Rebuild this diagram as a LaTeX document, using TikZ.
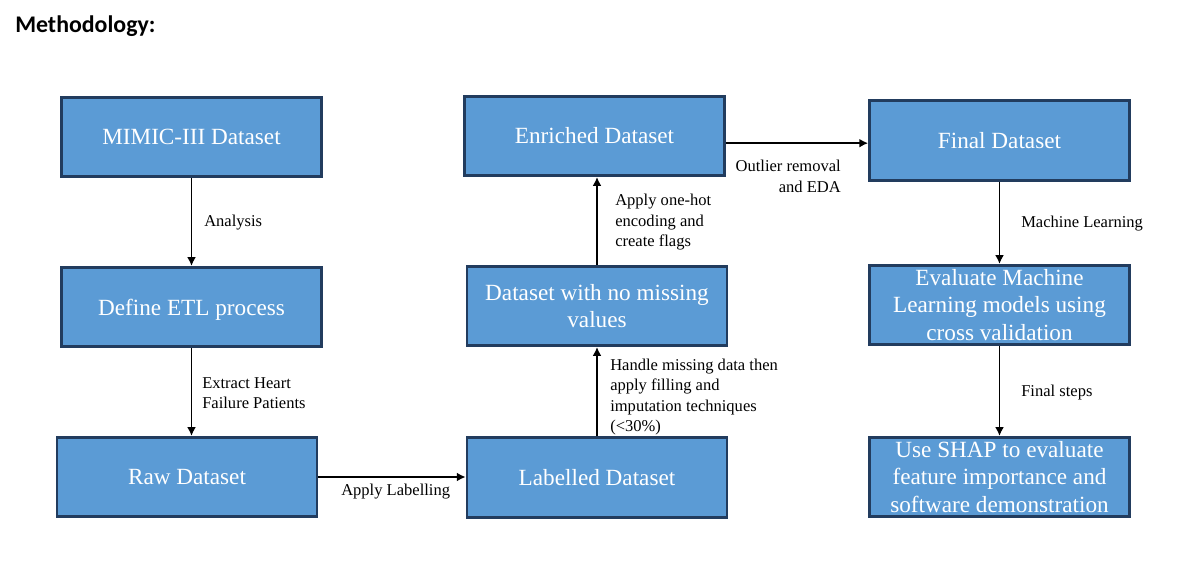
\documentclass[tikz,border=0pt]{standalone}
\usepackage{fontspec}
\setmainfont{Liberation Serif}
\newfontfamily\titlefont{Carlito}
\usetikzlibrary{arrows.meta}
\definecolor{boxfill}{RGB}{91,155,213}
\definecolor{boxline}{RGB}{34,60,94}
\tikzset{
  stage/.style={draw=boxline, fill=boxfill, line width=2.2pt, text=white,
    minimum width=195pt, minimum height=59.5pt, inner sep=2pt, align=center,
    font=\fontsize{17.4}{20.6}\selectfont},
  note/.style={inner sep=0pt, font=\fontsize{12.4}{15.4}\selectfont},
  flow/.style={line width=1pt, >={Latex[length=6.5pt, width=6.5pt]}, ->}
}
\begin{document}
\begin{tikzpicture}[x=0.75pt, y=-0.75pt]
  \useasboundingbox (0, 0) rectangle (1191, 581);
  \node [anchor=west, inner sep=0pt, font=\titlefont\bfseries\fontsize{17.9}{20}\selectfont] (title) at (15, 26) {Methodology:};
  % left column
  \node [stage] (mimic) at (191.5, 137) {MIMIC-III Dataset};
  \node [stage, text depth=0pt] (etl) at (191.5, 307) {Define ETL process};
  \node [stage] (raw) at (187, 477) {Raw Dataset};
  % middle column
  \node [stage] (lab) at (597, 477.5) {Labelled Dataset};
  \node [stage] (nomiss) at (597, 306) {Dataset with no missing\\values};
  \node [stage] (enr) at (594.5, 136) {Enriched Dataset};
  % right column
  \node [stage] (fin) at (999.5, 140.5) {Final Dataset};
  \node [stage] (eval) at (999.5, 305) {Evaluate Machine\\Learning models using\\cross validation};
  \node [stage] (shap) at (999.5, 477) {Use SHAP to evaluate\\feature importance and\\software demonstration};
  % connectors
  \draw [flow] (mimic.south) -- (mimic.south |- etl.north);
  \draw [flow] (etl.south) -- (etl.south |- raw.north);
  \draw [flow] (raw.east) -- (raw.east -| lab.west);
  \draw [flow] (lab.north) -- (lab.north |- nomiss.south);
  \draw [flow] (nomiss.north) -- (nomiss.north |- enr.south);
  \coordinate (enrout) at ([yshift=-2pt] enr.east |- fin.west);
  \draw [flow] (enrout) -- (enrout -| fin.west);
  \draw [flow] (fin.south) -- (fin.south |- eval.north);
  \draw [flow] (eval.south) -- (eval.south |- shap.north);
  % labels
  \node [note, anchor=west] (analysis) at (204, 223) {Analysis};
  \node [note, anchor=west, align=left] (extract) at (202, 393) {Extract Heart\\Failure Patients};
  \node [note, anchor=west] (labelling) at (341, 492) {Apply Labelling};
  \node [note, anchor=west, align=left] (impute) at (610, 397) {Handle missing data then\\apply filling and\\imputation techniques\\(<30\%)};
  \node [note, anchor=west, align=left] (onehot) at (615, 222.5) {Apply one-hot\\encoding and\\create flags};
  \node [note, anchor=east, align=right] (outlier) at (841, 176.5) {Outlier removal\\and EDA};
  \node [note, anchor=west] (ml) at (1021, 223.5) {Machine Learning};
  \node [note, anchor=west] (steps) at (1021, 393) {Final steps};
\end{tikzpicture}
\end{document}
